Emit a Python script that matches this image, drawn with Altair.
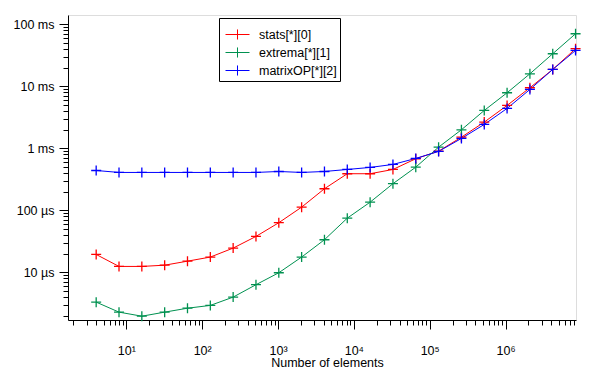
import altair as alt
import pandas as pd

# ---- data ----
elements = [4, 8, 16, 32, 64, 128, 256, 512, 1024, 2048, 4096, 8192, 16384, 32768,
            65536, 131072, 262144, 524288, 1048576, 2097152, 4194304, 8388608]

series_names = ["stats[*][0]", "extrema[*][1]", "matrixOP[*][2]"]
series_colors = ["#ff0000", "#009150", "#0000ff"]

stats = [1.95e-5, 1.25e-5, 1.25e-5, 1.31e-5, 1.52e-5, 1.77e-5, 2.47e-5, 3.81e-5,
         6.34e-5, 1.13e-4, 2.24e-4, 3.91e-4, 3.91e-4, 4.58e-4, 6.82e-4, 9.04e-4,
         1.52e-3, 2.66e-3, 4.94e-3, 9.53e-3, 1.88e-2, 4.06e-2]
extrema = [3.32e-6, 2.29e-6, 1.97e-6, 2.29e-6, 2.65e-6, 2.94e-6, 4.00e-6, 6.34e-6,
           9.89e-6, 1.77e-5, 3.37e-5, 7.51e-5, 1.36e-4, 2.70e-4, 4.99e-4, 1.05e-3,
           2.00e-3, 4.10e-3, 7.91e-3, 1.60e-2, 3.37e-2, 7.08e-2]
matrixop = [4.41e-4, 4.10e-4, 4.10e-4, 4.10e-4, 4.10e-4, 4.10e-4, 4.10e-4, 4.10e-4,
            4.25e-4, 4.10e-4, 4.25e-4, 4.58e-4, 4.94e-4, 5.52e-4, 6.90e-4, 8.95e-4,
            1.45e-3, 2.44e-3, 4.42e-3, 8.95e-3, 1.88e-2, 3.81e-2]

x_major = [1e1, 1e2, 1e3, 1e4, 1e5, 1e6]
x_major_labels = ["10\u00b9", "10\u00b2", "10\u00b3", "10\u2074", "10\u2075", "10\u2076"]
y_major = [1e-5, 1e-4, 1e-3, 1e-2, 1e-1]
y_major_labels = ["10 \u00b5s", "100 \u00b5s", "1 ms", "10 ms", "100 ms"]
minor_mult = [2, 3, 4, 5, 6, 7, 8, 9]

x_domain = [1.7, 8.5e6]
y_domain = [1.71e-6, 0.142]

# ---- table ----
rows = []
for name, vals in zip(series_names, [stats, extrema, matrixop]):
    for n, v in zip(elements, vals):
        rows.append({"n": n, "t": v, "series": name})
df = pd.DataFrame(rows)

def ticks(domain, decades):
    out = []
    for d in [decades[0] / 10] + decades:
        for m in [1] + minor_mult:
            v = d * m
            if domain[0] <= v <= domain[1]:
                out.append(v)
    return sorted(set(out))

x_ticks = ticks(x_domain, x_major)
y_ticks = ticks(y_domain, y_major)

def label_expr(majors, labels):
    parts = []
    for v, l in zip(majors, labels):
        parts.append(f"abs(datum.value / {v!r} - 1) < 1e-6 ? '{l}'")
    return " : ".join(parts) + " : ''"

major_test = "abs(log(datum.value)/LN10 - round(log(datum.value)/LN10)) < 0.001"

FONT = "Liberation Sans"

x_axis = alt.Axis(
    values=x_ticks,
    labelExpr=label_expr(x_major, x_major_labels),
    tickSize={"condition": {"test": major_test, "value": 9}, "value": 5},
    labelPadding=15,
    labelOverlap=False,
    labelFlush=False,
    labelBound=False,
    grid=False,
    domainColor="black",
    tickColor="black",
    labelColor="black",
    labelFont=FONT,
    labelFontSize=12.5,
    title="Number of elements",
    titleFont=FONT,
    titleFontSize=12.5,
    titleFontWeight="normal",
    titleColor="black",
    titleX=259,
    titleY=46,
    titleAlign="center",
    titleBaseline="alphabetic",
)

y_axis = alt.Axis(
    values=y_ticks,
    labelExpr=label_expr(y_major, y_major_labels),
    tickSize={"condition": {"test": major_test, "value": 9}, "value": 5},
    labelPadding=5,
    labelOverlap=False,
    labelFlush=False,
    labelBound=False,
    grid=False,
    domainColor="black",
    tickColor="black",
    labelColor="black",
    labelFont=FONT,
    labelFontSize=12.5,
    title=None,
)

cross = "M-1,0L1,0M0,-1L0,1"
legend_sym = "M-2,0L2,0M0,-0.84L0,0.84"

chart = (
    alt.Chart(df)
    .mark_line(
        strokeWidth=1,
        point=alt.OverlayMarkDef(shape=cross, filled=False, size=100, strokeWidth=1.3),
    )
    .encode(
        x=alt.X("n:Q", scale=alt.Scale(type="log", domain=x_domain, nice=False), axis=x_axis),
        y=alt.Y("t:Q", scale=alt.Scale(type="log", domain=y_domain, nice=False), axis=y_axis),
        color=alt.Color(
            "series:N",
            scale=alt.Scale(domain=series_names, range=series_colors),
            sort=series_names,
            legend=alt.Legend(
                title=" ",
                titleFontSize=4,
                titlePadding=3,
                orient="none",
                legendX=151,
                legendY=3,
                symbolType=legend_sym,
                symbolSize=144,
                symbolStrokeWidth=1,
                symbolOffset=9,
                labelOffset=15,
                labelFont=FONT,
                labelFontSize=12.5,
                labelColor="black",
                padding=3,
                rowPadding=3,
                strokeColor="black",
                fillColor="white",
                cornerRadius=0,
            ),
        ),
        order=alt.Order("n:Q"),
    )
    .properties(
        width=508,
        height=305,
        autosize=alt.AutoSizeParams(type="none"),
        padding={"left": 60, "top": 7, "right": 25, "bottom": 55},
    )
    .configure_view(stroke=None)
    .configure(background="white")
)

chart.save("out.html", embed_options={"renderer": "svg", "actions": False})
